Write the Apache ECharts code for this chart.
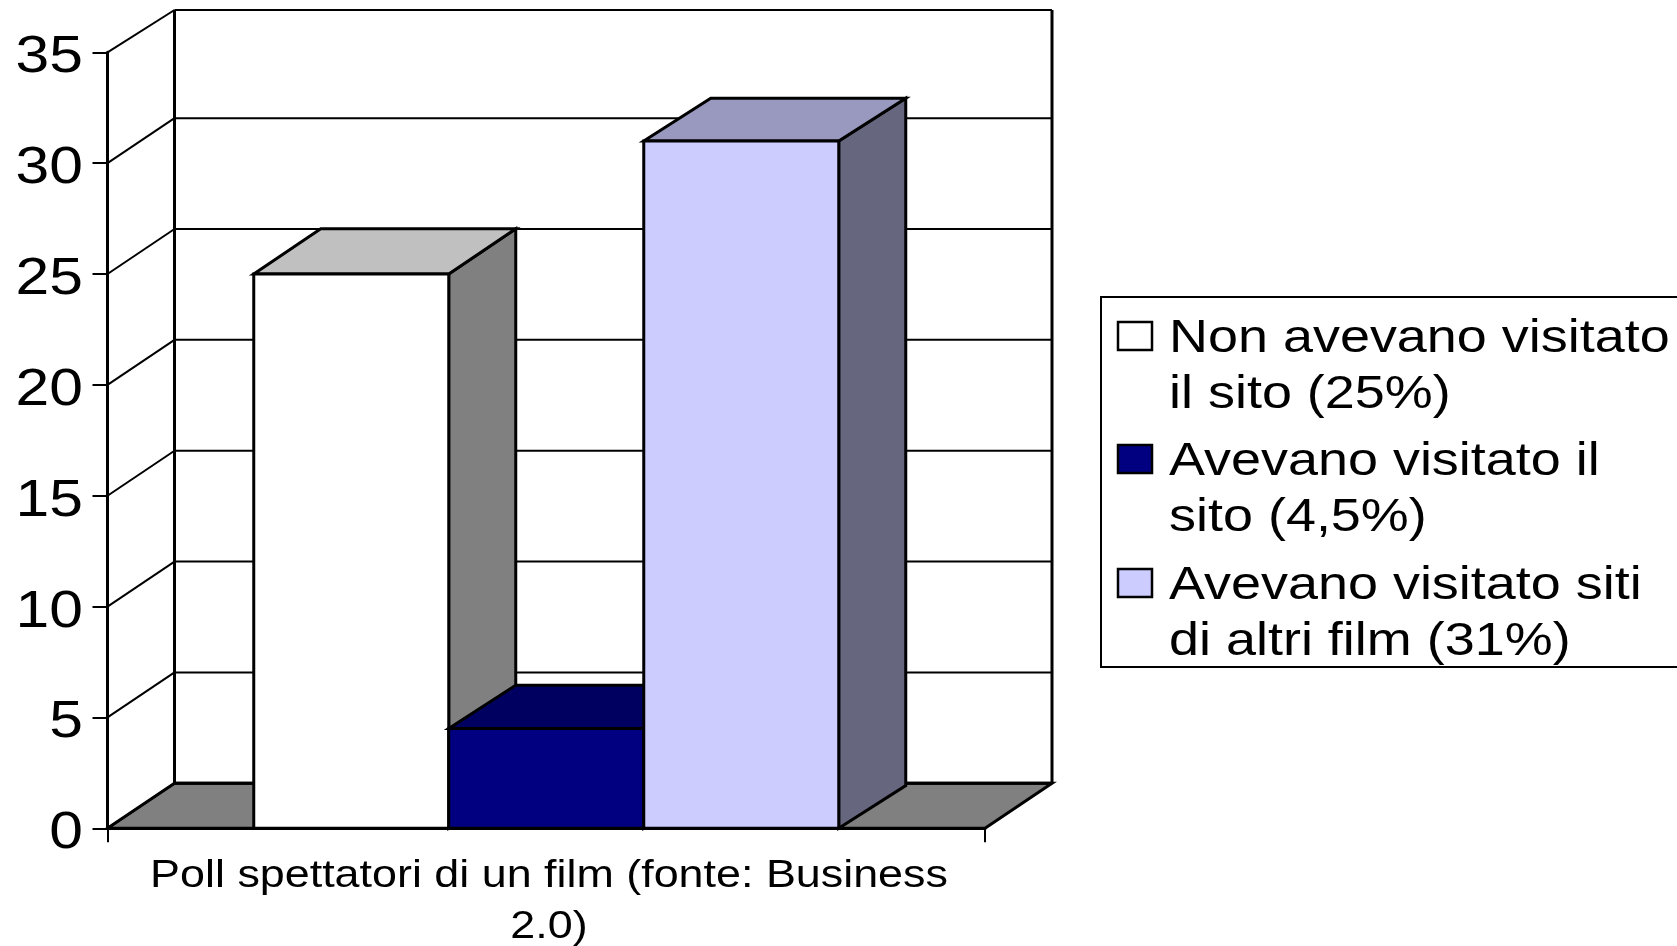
<!DOCTYPE html>
<html>
<head>
<meta charset="utf-8">
<style>
  html, body { margin: 0; padding: 0; background: #fff; }
  #chart { width: 1677px; height: 946px; }
</style>
<script src="https://cdn.jsdelivr.net/npm/echarts@6/dist/echarts.min.js"></script>
</head>
<body>
<div id="chart"></div>
<script>
var categories = ['Poll spettatori di un film (fonte: Business\n2.0)'];
var seriesNames = ['Non avevano visitato il sito (25%)', 'Avevano visitato il sito (4,5%)', 'Avevano visitato siti di altri film (31%)'];
var legendLabels = ['Non avevano visitato\nil sito (25%)', 'Avevano visitato il\nsito (4,5%)', 'Avevano visitato siti\ndi altri film (31%)'];
var seriesValues = [25, 4.5, 31];
var yTicks = [0, 5, 10, 15, 20, 25, 30, 35];

var fontName = '"Liberation Sans", Arial, sans-serif';
// the source image is stretched sideways, so all text gets this too
var stretch = 1.165;
var baselineEm = 0.775;
var depthX = 67;
var depthY = 45;
var topDepthY = 42.3;
var barDepthY = [45.2, 43.4, 42.7];
var barFront = ['#ffffff', '#000080', '#ccccff'];
var barTop = ['#c0c0c0', '#000060', '#9999bf'];
var barSide = ['#808080', '#000060', '#66667f'];

function poly(points, fill, width) {
  return {
    type: 'polygon',
    shape: { points: points },
    style: { fill: fill, stroke: '#000', lineWidth: width, lineJoin: 'miter' }
  };
}
function seg(x1, y1, x2, y2, width) {
  return {
    type: 'line',
    shape: { x1: x1, y1: y1, x2: x2, y2: y2 },
    style: { stroke: '#000', lineWidth: width }
  };
}
function label(text, x, baseline, size, align) {
  return {
    type: 'text', x: x, y: baseline - size * baselineEm, scaleX: stretch,
    style: { text: text, fontSize: size, fontFamily: fontName, fill: '#000', align: align, verticalAlign: 'top' }
  };
}

function renderWall(params, api) {
  var cs = params.coordSys;
  var left = cs.x, right = cs.x + cs.width;
  var value = api.value(1);
  var y = api.coord([0, value])[1];
  var dy = value === 35 ? topDepthY : depthY;
  var items = [
    seg(left, y, left + depthX, y - dy, 2),
    seg(left + depthX, y - dy, right + depthX, y - dy, value === 0 ? 3 : 2),
    label(String(value), 83, y + 20, 52, 'right')
  ];
  if (value === 0) {
    items.unshift(poly([[left, y], [left + depthX, y - dy], [right + depthX, y - dy], [right, y]], '#808080', 3));
    var top = api.coord([0, 35])[1] - topDepthY;
    items.push(seg(left + depthX, y - dy, left + depthX, top, 3));
    items.push(seg(right + depthX, y - dy, right + depthX, top, 3));
  }
  return { type: 'group', children: items };
}

function renderBar(i) {
  return function (params, api) {
    var band = api.size([1, 0])[0];
    var w = band / 4.5;
    var x0 = api.coord([0, 0])[0] - band / 2 + w * 0.75 + w * i;
    var x1 = x0 + w;
    var yBase = api.coord([0, 0])[1];
    var yTop = api.coord([0, api.value(1)])[1];
    var dy = barDepthY[i];
    return {
      type: 'group',
      children: [
        poly([[x1, yBase], [x1 + depthX, yBase - dy], [x1 + depthX, yTop - dy], [x1, yTop]], barSide[i], 3),
        poly([[x0, yTop], [x0 + depthX, yTop - dy], [x1 + depthX, yTop - dy], [x1, yTop]], barTop[i], 3),
        poly([[x0, yTop], [x1, yTop], [x1, yBase], [x0, yBase]], barFront[i], 3)
      ]
    };
  };
}

function renderAxisName(params, api) {
  var lines = categories[0].split('\n');
  return {
    type: 'group',
    children: lines.map(function (line, k) {
      return label(line, 549, 887 + k * 51, 38.5, 'center');
    })
  };
}

var legendRows = [322, 445, 569];
var legendItems = [{
  type: 'rect',
  shape: { x: 1101, y: 297, width: 590, height: 370 },
  style: { fill: '#fff', stroke: '#000', lineWidth: 2 }
}];
legendLabels.forEach(function (text, i) {
  legendItems.push({
    type: 'rect',
    shape: { x: 1118, y: legendRows[i], width: 34, height: 28 },
    style: { fill: barFront[i], stroke: '#000', lineWidth: 2.5 }
  });
  text.split('\n').forEach(function (line, k) {
    legendItems.push(label(line, 1169, legendRows[i] + 30 + k * 56, 46.3, 'left'));
  });
});

var series = [{
  name: 'wall',
  type: 'custom',
  silent: true,
  z: 1,
  data: yTicks.map(function (t) { return [0, t]; }),
  renderItem: renderWall
}];
seriesNames.forEach(function (name, i) {
  series.push({
    name: name,
    type: 'custom',
    silent: true,
    z: 2 + i,
    data: [[0, seriesValues[i]]],
    renderItem: renderBar(i)
  });
});
series.push({
  name: 'category',
  type: 'custom',
  silent: true,
  z: 6,
  data: [[0, 0]],
  renderItem: renderAxisName
});

var myChart = echarts.init(document.getElementById('chart'));
myChart.setOption({
  animation: false,
  backgroundColor: '#fff',
  grid: { left: 107.5, top: 52.3, width: 877.5, height: 776 },
  xAxis: {
    type: 'category',
    data: categories,
    boundaryGap: true,
    z: 10,
    axisLine: { lineStyle: { color: '#000', width: 3 } },
    axisTick: { show: true, alignWithLabel: false, interval: 0, length: 14, lineStyle: { color: '#000', width: 2 } },
    axisLabel: { show: false },
    splitLine: { show: false }
  },
  yAxis: {
    type: 'value',
    min: 0,
    max: 35,
    interval: 5,
    z: 10,
    axisLine: { show: true, lineStyle: { color: '#000', width: 3 } },
    axisTick: { show: true, length: 15, lineStyle: { color: '#000', width: 2 } },
    axisLabel: { show: false },
    splitLine: { show: false }
  },
  graphic: { elements: legendItems },
  series: series
});
</script>
</body>
</html>
